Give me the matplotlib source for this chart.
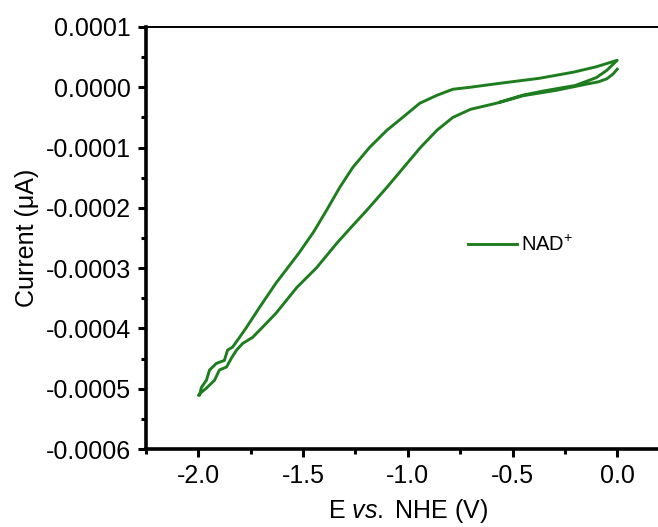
import matplotlib
matplotlib.use("Agg")
import matplotlib.pyplot as plt
from matplotlib.ticker import MultipleLocator, FuncFormatter

plt.rcParams['font.family'] = ['Liberation Sans', 'DejaVu Sans']
plt.rcParams['mathtext.fontset'] = 'custom'
plt.rcParams['mathtext.rm'] = 'Liberation Sans'
plt.rcParams['mathtext.it'] = 'Liberation Sans:italic'
plt.rcParams['axes.unicode_minus'] = False

# CV scan (current in units of 1e-4)
# 0 -> -2.0 V (lower branch), back to 0 (upper branch), then start of the next sweep
potential = [0.0, -0.02, -0.05, -0.09, -0.15, -0.29, -0.45, -0.56, -0.62, -0.70,
             -0.785, -0.86, -0.94, -1.02, -1.10, -1.196, -1.27, -1.34, -1.435, -1.53,
             -1.63, -1.708, -1.742, -1.789, -1.818, -1.842, -1.866, -1.900, -1.923, -1.938,
             -1.962, -1.986, -2.0,
             -1.995, -1.986, -1.962, -1.947, -1.914, -1.876, -1.861, -1.837, -1.804, -1.770,
             -1.708, -1.63, -1.52, -1.45, -1.388, -1.325, -1.263, -1.182, -1.10, -1.024,
             -0.943, -0.861, -0.785, -0.703, -0.56, -0.37, -0.21, -0.10, 0.0,
             -0.05, -0.10, -0.20, -0.35, -0.45, -0.56]
current_e4 = [0.30, 0.22, 0.14, 0.09, 0.05, -0.05, -0.14, -0.25, -0.30, -0.365,
              -0.50, -0.71, -1.00, -1.33, -1.66, -2.04, -2.32, -2.59, -2.99, -3.32,
              -3.75, -4.03, -4.15, -4.25, -4.36, -4.49, -4.64, -4.69, -4.86, -4.91,
              -4.99, -5.06, -5.11,
              -5.11, -4.98, -4.86, -4.69, -4.58, -4.53, -4.36, -4.31, -4.15, -3.98,
              -3.65, -3.25, -2.75, -2.40, -2.04, -1.66, -1.33, -0.995, -0.713, -0.498,
              -0.265, -0.133, -0.033, 0.0, 0.066, 0.15, 0.25, 0.34, 0.448,
              0.28, 0.16, 0.03, -0.06, -0.13, -0.245]
current = [c * 1e-4 for c in current_e4]

series_label = "NAD$^{+}$"
x_label = "E $\\mathit{vs.}$ NHE (V)"
y_label = "Current (\u03bcA)"

fig = plt.figure(figsize=(6.58, 5.27), dpi=100)
ax = fig.add_axes([0.222, 0.148, 0.7956, 0.8008])

ax.plot(potential, current, color='#1e7d1e', lw=2.1, label=series_label,
        solid_joinstyle='round')

ax.set_xlim(-2.25, 0.25)
ax.set_ylim(-0.0006, 0.0001)
ax.xaxis.set_major_locator(MultipleLocator(0.5))
ax.xaxis.set_minor_locator(MultipleLocator(0.25))
ax.yaxis.set_major_locator(MultipleLocator(0.0001))
ax.yaxis.set_minor_locator(MultipleLocator(0.00005))
ax.xaxis.set_major_formatter(FuncFormatter(lambda v, p: "%.1f" % (round(v, 2) + 0.0)))
ax.yaxis.set_major_formatter(FuncFormatter(lambda v, p: "%.4f" % (round(v, 6) + 0.0)))

for s in ['left', 'bottom']:
    ax.spines[s].set_linewidth(2.6)
ax.spines['top'].set_linewidth(1.4)
ax.spines['right'].set_visible(False)

ax.tick_params(which='major', direction='out', length=6, width=2.2, labelsize=18, pad=5,
               top=False, right=False)
ax.tick_params(which='minor', direction='out', length=3.5, width=2.2, top=False, right=False)

ax.set_xlabel(x_label, fontsize=18, labelpad=6)
ax.set_ylabel(y_label, fontsize=18, labelpad=5)

ax.legend(loc='center left', bbox_to_anchor=(0.6, 0.483), frameon=False, fontsize=14.5,
          handlelength=2.4, handletextpad=0.2, borderaxespad=0)

fig.savefig("out.png", dpi=100)
